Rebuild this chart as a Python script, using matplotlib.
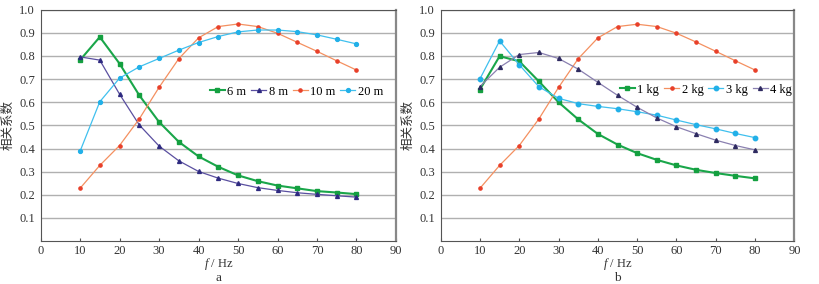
import matplotlib.pyplot as plt

plt.rcParams['font.family'] = ['Liberation Serif', 'Noto Sans CJK SC']
plt.rcParams['mathtext.fontset'] = 'custom'
plt.rcParams['mathtext.it'] = 'Liberation Serif:italic'
plt.rcParams['mathtext.rm'] = 'Liberation Serif'

freq = [10, 15, 20, 25, 30, 35, 40, 45, 50, 55, 60, 65, 70, 75, 80]

# panel a: distance
dist_6m = [0.782, 0.882, 0.767, 0.630, 0.515, 0.429, 0.366, 0.321, 0.284, 0.259, 0.240, 0.228, 0.216, 0.210, 0.203]
dist_8m = [0.796, 0.782, 0.635, 0.502, 0.411, 0.347, 0.301, 0.272, 0.249, 0.231, 0.219, 0.209, 0.202, 0.196, 0.190]
dist_10m = [0.228, 0.327, 0.413, 0.528, 0.664, 0.788, 0.878, 0.927, 0.938, 0.927, 0.898, 0.859, 0.820, 0.779, 0.739]
dist_20m = [0.388, 0.602, 0.704, 0.753, 0.789, 0.825, 0.858, 0.884, 0.904, 0.912, 0.912, 0.905, 0.891, 0.872, 0.852]

# panel b: mass
mass_1kg = [0.655, 0.799, 0.777, 0.690, 0.600, 0.526, 0.463, 0.417, 0.380, 0.351, 0.327, 0.308, 0.294, 0.282, 0.271]
mass_2kg = [0.228, 0.327, 0.413, 0.528, 0.664, 0.788, 0.878, 0.927, 0.937, 0.927, 0.898, 0.860, 0.820, 0.779, 0.739]
mass_3kg = [0.701, 0.865, 0.762, 0.667, 0.617, 0.594, 0.582, 0.572, 0.559, 0.544, 0.523, 0.503, 0.485, 0.465, 0.447]
mass_4kg = [0.668, 0.751, 0.806, 0.815, 0.789, 0.743, 0.686, 0.630, 0.578, 0.532, 0.494, 0.464, 0.436, 0.413, 0.394]

labels_a = ['6 m', '8 m', '10 m', '20 m']
labels_b = ['1 kg', '2 kg', '3 kg', '4 kg']

# (line colour, marker colour, marker, line width, marker size)
styles = [
    ('#1aa64a', '#14a040', 's', 1.5, 2.8),
    ('#5a4fa0', '#2e2a80', '^', 0.9, 2.8),
    ('#f49060', '#e8402a', 'o', 0.9, 2.3),
    ('#40c0ee', '#22b0e8', 'o', 0.9, 2.8),
]
styles_b = [
    ('#1aa64a', '#14a040', 's', 1.5, 2.8),
    ('#f49060', '#e8402a', 'o', 0.9, 2.3),
    ('#40c0ee', '#22b0e8', 'o', 0.9, 3.2),
    ('#8a80b0', '#2e2a60', '^', 0.9, 2.8),
]

fig = plt.figure(figsize=(8.19, 2.84), dpi=100)
ax1 = fig.add_axes([0.0495, 0.151, 0.434, 0.815])
ax2 = fig.add_axes([0.538, 0.151, 0.432, 0.815])


def draw(ax, series, labels, sty, letter, leg_anchor):
    for ys, lab, (lc, mc, mk, lw, ms) in zip(series, labels, sty):
        ax.plot(freq, ys, color=lc, lw=lw, marker=mk, ms=ms,
                markerfacecolor=mc, markeredgecolor=mc, label=lab)
    ax.set_xlim(0, 90)
    ax.set_ylim(0, 1.0)
    ax.set_xticks(range(0, 91, 10))
    ax.set_yticks([0.1 * i for i in range(1, 11)])
    ax.set_yticklabels(['%.1f' % (0.1 * i) for i in range(1, 11)])
    ax.tick_params(axis='x', direction='in', length=2.5, width=0.8, color='#555555',
                   labelsize=9, labelcolor='#333333', pad=3)
    ax.tick_params(axis='y', length=0, labelsize=9, labelcolor='#333333', pad=4)
    ax.yaxis.grid(True, color='#b0b0b0', lw=1.0)
    ax.set_axisbelow(True)
    for side in ['top', 'left', 'bottom']:
        ax.spines[side].set_color('#555555')
    ax.spines['right'].set_color('#888888')
    ax.spines['right'].set_linewidth(1.6)
    ax.set_ylabel('相关系数', family=['Noto Sans CJK SC'], fontsize=9, labelpad=3,
                  color='#333333')
    ax.set_xlabel('$f$ / Hz', fontsize=9, labelpad=-1, color='#333333')
    ax.text(0.5, -0.16, letter, transform=ax.transAxes, ha='center', va='center',
            fontsize=9.5, color='#333333')
    ax.legend(loc='center', bbox_to_anchor=leg_anchor, ncol=4, frameon=False,
              fontsize=9, handlelength=1.2, handletextpad=0.2, columnspacing=0.4,
              borderaxespad=0)


draw(ax1, [dist_6m, dist_8m, dist_10m, dist_20m], labels_a, styles, 'a', (0.72, 0.645))
draw(ax2, [mass_1kg, mass_2kg, mass_3kg, mass_4kg], labels_b, styles_b, 'b', (0.75, 0.655))

fig.savefig('out.png', dpi=100)
